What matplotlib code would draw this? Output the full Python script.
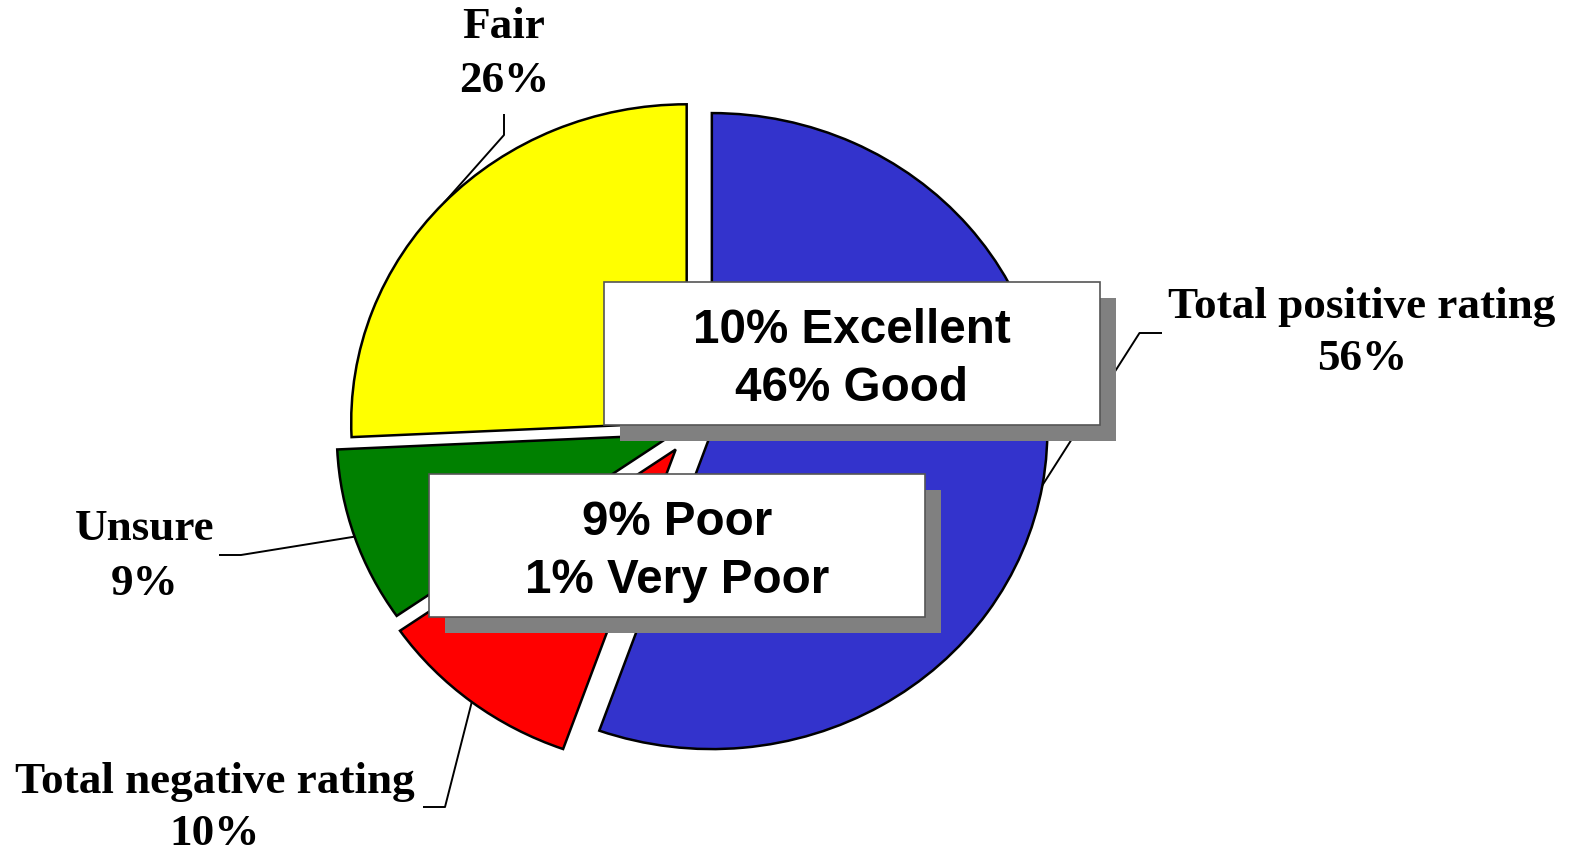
import matplotlib
matplotlib.use("Agg")
import matplotlib.pyplot as plt
from matplotlib.patches import Rectangle
import numpy as np

# ---- data ----
categories = ["Total positive rating", "Total negative rating", "Unsure", "Fair"]
values = [56, 10, 9, 26]
box_positive = ["10% Excellent", "46% Good"]
box_negative = ["9% Poor", "1% Very Poor"]

# ---- style ----
colors = ["#3333CC", "#FF0000", "#008000", "#FFFF00"]
explode_frac = [0.057, 0.085, 0.065, 0.026]

W, H = 1571, 852
K = 1.055          # horizontal stretch of the pie
R = 318            # radius in vertical pixels
CX, CY = 693, 428  # pie centre in pixels (y down)

fig = plt.figure(figsize=(W / 100, H / 100), dpi=100)
ax = fig.add_axes([0, 0, 1, 1])
wedges, _ = ax.pie(values, colors=colors, explode=[e * R for e in explode_frac],
                   startangle=90, counterclock=False, radius=R,
                   center=(CX / K, H - CY), frame=False,
                   wedgeprops=dict(edgecolor="black", linewidth=1.8))
ax.set_aspect("auto")
ax.set_xlim(0, W / K)
ax.set_ylim(0, H)
ax.axis("off")

an = fig.add_axes([0, 0, 1, 1])
an.set_xlim(0, W)
an.set_ylim(H, 0)
an.axis("off")
an.patch.set_alpha(0)


def arc_point(w):
    th = np.deg2rad((w.theta1 + w.theta2) / 2)
    x = w.center[0] + w.r * np.cos(th)
    y = w.center[1] + w.r * np.sin(th)
    return x * K, H - y


serif = dict(family="Liberation Serif", weight="bold", fontsize=32.5)
sans = dict(family="Liberation Sans", weight="bold", fontsize=34.3)

# label layout: (elbow points, text centre x, baseline line1, baseline line2, zorder)
layout = {
    "Total positive rating": ([(1139.5, 333), (1162, 333)], 1362, 318, 370, 1),
    "Total negative rating": ([(445, 807), (423, 807)], 215, 793, 845, 6),
    "Unsure": ([(241, 555), (219, 555)], 145, 540, 595, 6),
    "Fair": ([(504, 135), (504, 114)], 504, 38, 92, 6),
}

for w, cat, v in zip(wedges, categories, values):
    pts, tx, b1, b2, z = layout[cat]
    p0 = arc_point(w)
    xs = [p0[0]] + [p[0] for p in pts]
    ys = [p0[1]] + [p[1] for p in pts]
    an.plot(xs, ys, color="black", lw=1.4, zorder=z, solid_capstyle="butt")
    an.text(tx, b1, cat, ha="center", va="baseline", **serif)
    an.text(tx, b2, f"{v}%", ha="center", va="baseline", **serif)

# boxes
boxes = [((604, 282), box_positive), ((429, 474), box_negative)]
BW, BH, SH = 496, 143, 16
for (bx, by), lines in boxes:
    an.add_patch(Rectangle((bx + SH, by + SH), BW, BH, facecolor="#808080",
                           edgecolor="none", zorder=2))
    an.add_patch(Rectangle((bx, by), BW, BH, facecolor="white",
                           edgecolor="#555555", lw=1.2, zorder=3))
    an.text(bx + BW / 2, by + 61, lines[0], ha="center", va="baseline",
            zorder=4, **sans)
    an.text(bx + BW / 2, by + 119, lines[1], ha="center", va="baseline",
            zorder=4, **sans)

fig.savefig("out.png", dpi=100, facecolor="white")
